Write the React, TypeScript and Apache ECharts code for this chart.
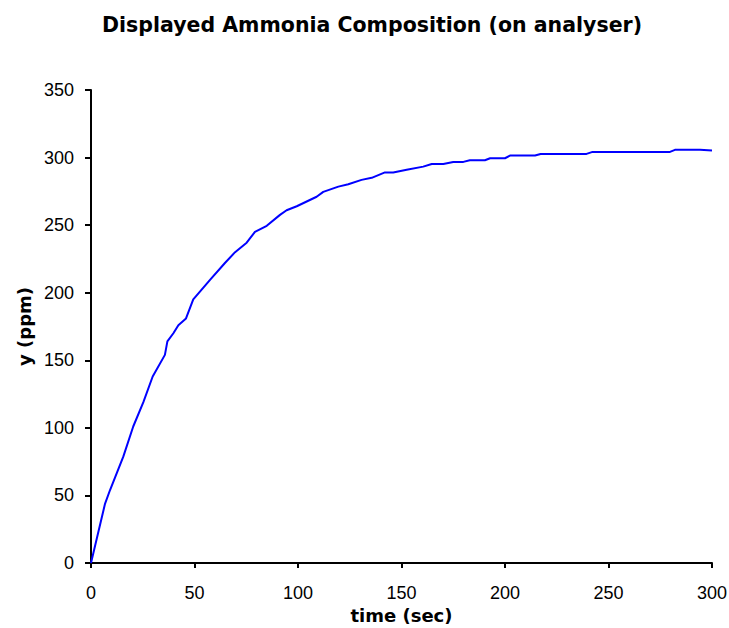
import React, { useEffect, useRef } from "react";
import * as echarts from "echarts";

const times = [0, 6.8, 9.2, 15.6, 20.4, 25.3, 29.8, 35.7, 36.9, 39.8, 42.2, 45.9, 49.4, 57.5, 64.7, 69.6, 75.2, 79.2, 84.9, 91.3, 94.5, 99.4, 109, 112.2, 119.5, 124.3, 130.7, 135.6, 142, 146, 152.5, 160.5, 164.6, 170.2, 175, 179.9, 183, 190.3, 192.8, 200, 202.4, 214.5, 217.2, 239.4, 242.3, 279.7, 282.1, 294.2, 300];
const values = [0, 44, 54, 78.7, 101, 119, 138, 154, 164, 170, 176, 181, 195, 209.5, 222, 230, 237, 245, 249.5, 257.6, 261, 264, 271, 274.6, 278.5, 280.3, 283.5, 285, 289, 289, 291, 293.3, 295.3, 295.3, 296.8, 296.8, 298, 298, 299.5, 299.5, 301.5, 301.5, 302.7, 302.7, 304.2, 304.2, 305.7, 305.7, 305.3];

const titleText = "Displayed Ammonia Composition (on analyser)";
const xName = "time (sec)";
const yName = "y (ppm)";

const FONT = "'Liberation Sans', Arial, sans-serif";
const BOLD_FONT = "'DejaVu Sans', 'Liberation Sans', sans-serif";

export default function App() {
  const ref = useRef<HTMLDivElement>(null);
  useEffect(() => {
    document.body.style.margin = "0";
    const chart = echarts.init(ref.current!, null, { renderer: "svg" });
    chart.setOption({
      animation: false,
      backgroundColor: "#ffffff",
      title: {
        text: titleText,
        left: 367,
        textAlign: "center",
        top: 9,
        textStyle: { fontFamily: BOLD_FONT, fontSize: 20.5, fontWeight: "bold", color: "#000" },
      },
      grid: { left: 91, right: 17, top: 90, bottom: 65, outerBoundsMode: "none" },
      xAxis: {
        type: "value",
        min: 0,
        max: 300,
        interval: 50,
        name: xName,
        nameLocation: "middle",
        nameGap: 43,
        nameTextStyle: { fontFamily: BOLD_FONT, fontSize: 18, fontWeight: "bold", color: "#000" },
        axisLine: { show: true, lineStyle: { color: "#000", width: 2 } },
        axisTick: { show: true, length: 5, lineStyle: { color: "#000", width: 2 } },
        axisLabel: { fontFamily: FONT, fontSize: 18, color: "#000", margin: 21 },
        splitLine: { show: false },
      },
      yAxis: {
        type: "value",
        min: 0,
        max: 350,
        interval: 50,
        name: yName,
        nameLocation: "middle",
        nameGap: 56,
        nameRotate: 90,
        nameTextStyle: { fontFamily: BOLD_FONT, fontSize: 18, fontWeight: "bold", color: "#000" },
        axisLine: { show: true, lineStyle: { color: "#000", width: 2 } },
        axisTick: { show: true, length: 6, lineStyle: { color: "#000", width: 2 } },
        axisLabel: { fontFamily: FONT, fontSize: 18, color: "#000", margin: 17 },
        splitLine: { show: false },
      },
      series: [
        {
          type: "line",
          data: times.map((t, i) => [t, values[i]]),
          showSymbol: false,
          symbol: "none",
          lineStyle: { color: "#0000ff", width: 2 },
        },
      ],
    });
    return () => chart.dispose();
  }, []);
  return <div ref={ref} style={{ width: 729, height: 628 }} />;
}
